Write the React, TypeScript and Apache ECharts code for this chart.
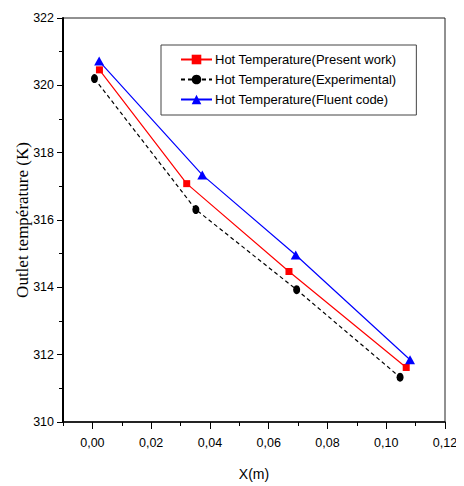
import React, { useEffect, useRef } from "react";
import * as echarts from "echarts";

const presentX = [0.0024, 0.0321, 0.0669, 0.1068];
const presentY = [320.46, 317.08, 314.47, 311.62];
const expX = [0.0007, 0.0352, 0.0695, 0.1047];
const expY = [320.2, 316.31, 313.93, 311.33];
const fluentX = [0.0023, 0.0374, 0.0692, 0.1081];
const fluentY = [320.72, 317.34, 314.96, 311.85];

const seriesNames = [
  "Hot Temperature(Present work)",
  "Hot Temperature(Experimental)",
  "Hot Temperature(Fluent code)",
];
const xMajor = [0, 0.02, 0.04, 0.06, 0.08, 0.1, 0.12];
const xMinor = [-0.01, 0.01, 0.03, 0.05, 0.07, 0.09, 0.11];

const SANS = "'Liberation Sans', Arial, sans-serif";
const SERIF = "'Liberation Serif', 'Times New Roman', serif";

const zip = (xs: number[], ys: number[]) => xs.map((x, i) => [x, ys[i]]);

export default function App() {
  const ref = useRef<HTMLDivElement>(null);
  useEffect(() => {
    if (!ref.current) return;
    const chart = echarts.init(ref.current, null, { renderer: "svg" });
    chart.setOption({
      animation: false,
      backgroundColor: "#fff",
      grid: {
        left: 63,
        top: 18,
        right: 19,
        bottom: 61,
        show: true,
        borderColor: "#222",
        borderWidth: 1,
      },
      legend: {
        orient: "vertical",
        left: 161,
        top: 45,
        backgroundColor: "#fff",
        borderColor: "#444",
        borderWidth: 1,
        borderRadius: 0,
        padding: [8, 20, 9, 19],
        itemWidth: 31,
        itemHeight: 12,
        itemGap: 7,
        textStyle: { fontFamily: SANS, fontSize: 13, color: "#000", padding: [0, 0, 0, -2] },
        data: seriesNames,
      },
      xAxis: [
        {
          type: "value",
          min: -0.01,
          max: 0.12,
          position: "bottom",
          name: "X(m)",
          nameLocation: "middle",
          nameGap: 45,
          nameMoveOverlap: false,
          nameTextStyle: { fontFamily: SANS, fontSize: 14, color: "#000" },
          axisLine: { show: true, onZero: false, lineStyle: { color: "#000", width: 1.5 } },
          axisTick: { show: true, inside: false, length: 7, customValues: xMajor, lineStyle: { color: "#000", width: 1 } },
          axisLabel: {
            customValues: xMajor,
            margin: 14,
            fontFamily: SANS,
            fontSize: 12.5,
            color: "#000",
            formatter: (v: number) => v.toFixed(2).replace(".", ","),
          },
          splitLine: { show: false },
        },
        {
          type: "value",
          min: -0.01,
          max: 0.12,
          position: "bottom",
          offset: 0,
          axisLine: { show: false, onZero: false },
          axisTick: { show: true, inside: false, length: 4, customValues: xMinor, lineStyle: { color: "#000", width: 1 } },
          axisLabel: { show: false },
          splitLine: { show: false },
        },
      ],
      yAxis: {
        type: "value",
        min: 310,
        max: 322,
        interval: 2,
        name: "Outlet température (K)",
        nameLocation: "middle",
        nameGap: 32,
        nameMoveOverlap: false,
        nameTextStyle: { fontFamily: SERIF, fontSize: 17, color: "#000" },
        axisLine: { show: true, onZero: false, lineStyle: { color: "#000", width: 2 } },
        axisTick: { show: true, inside: false, length: 6, lineStyle: { color: "#000", width: 1 } },
        minorTick: { show: true, splitNumber: 2, length: 4, lineStyle: { color: "#000", width: 1 } },
        axisLabel: { margin: 9, fontFamily: SANS, fontSize: 12.5, color: "#000" },
        splitLine: { show: false },
      },
      series: [
        {
          name: seriesNames[0],
          type: "line",
          data: zip(presentX, presentY),
          symbol: "rect",
          symbolSize: 7,
          color: "#ff0000",
          lineStyle: { color: "#ff0000", width: 1.2 },
          itemStyle: { color: "#ff0000" },
          z: 3,
        },
        {
          name: seriesNames[1],
          type: "line",
          data: zip(expX, expY),
          symbol: "circle",
          symbolSize: [7, 9],
          color: "#000",
          lineStyle: { color: "#000", width: 1.2, type: [4, 3] },
          itemStyle: { color: "#000" },
          z: 2,
        },
        {
          name: seriesNames[2],
          type: "line",
          data: zip(fluentX, fluentY),
          symbol: "triangle",
          symbolSize: [10, 9],
          color: "#0000ff",
          lineStyle: { color: "#0000ff", width: 1.2 },
          itemStyle: { color: "#0000ff" },
          z: 4,
        },
      ],
    });
    return () => chart.dispose();
  }, []);
  return <div ref={ref} style={{ width: 464, height: 486, marginLeft: -8, marginTop: -8 }} />;
}
